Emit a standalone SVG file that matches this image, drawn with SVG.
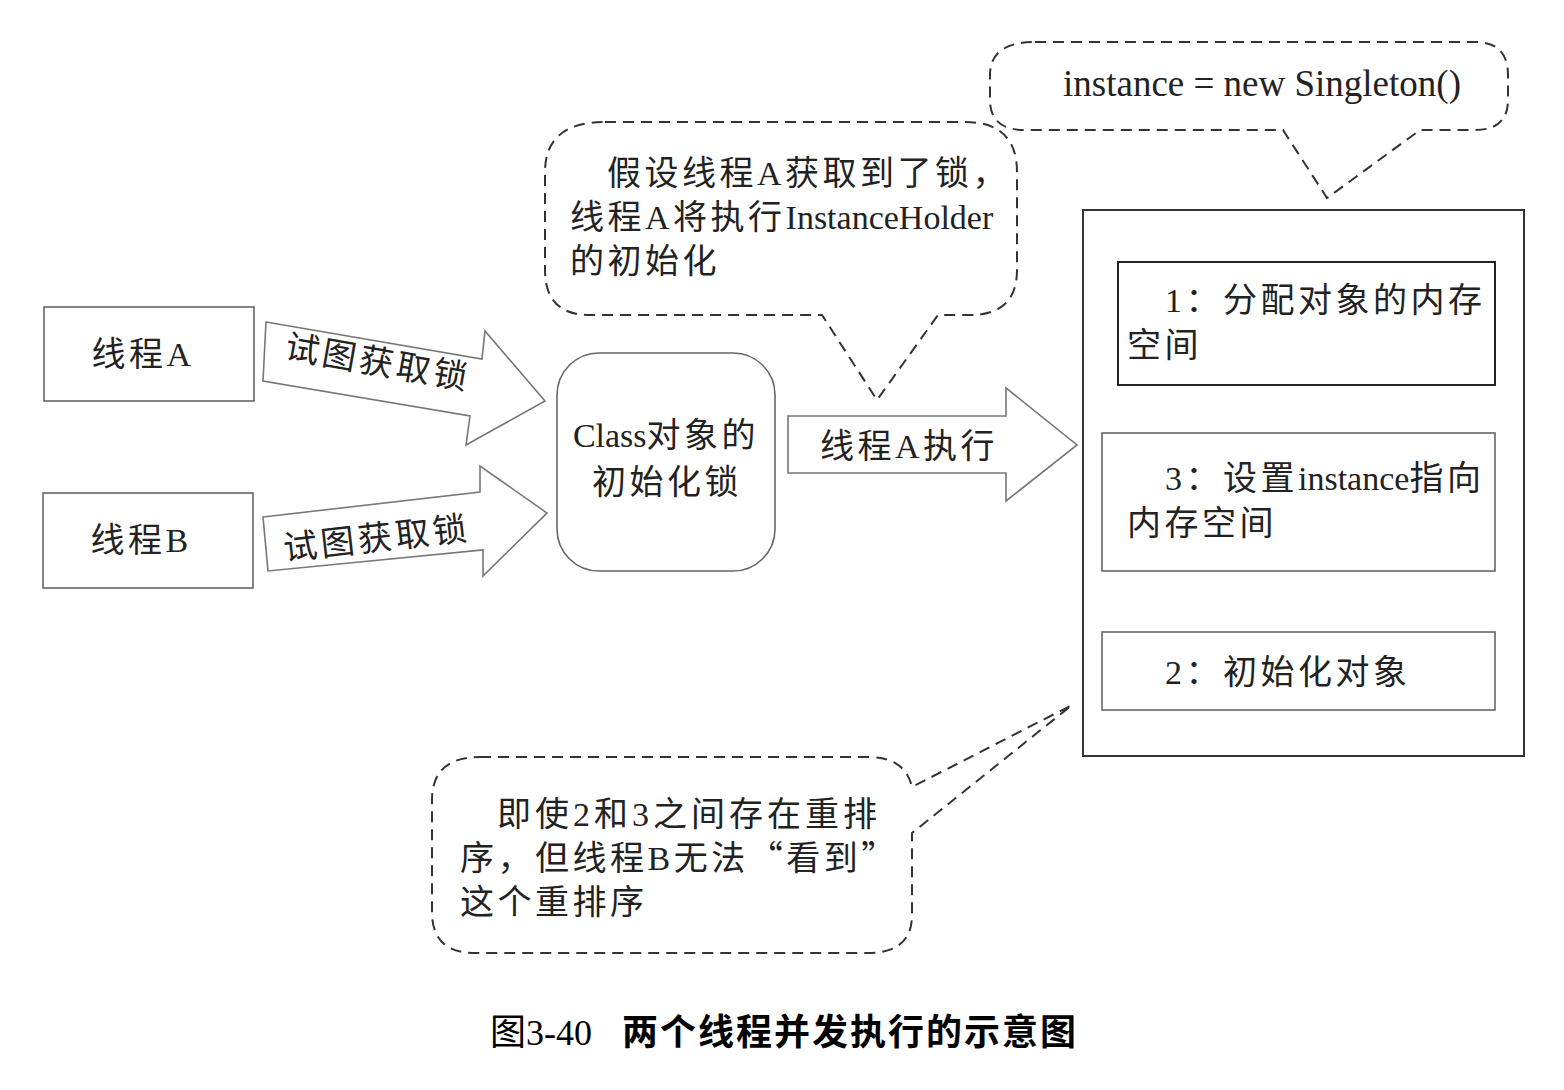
<svg xmlns="http://www.w3.org/2000/svg" width="1564" height="1090" viewBox="0 0 1564 1090">
<style>
text{font-family:"Liberation Serif","Noto Sans CJK SC",serif;font-size:34px;fill:#222;letter-spacing:3.5px}
.lat{letter-spacing:0}
.q{font-family:"Noto Sans CJK SC",sans-serif}
.box{fill:#fff;stroke:#666;stroke-width:1.6}
.dbox{fill:#fff;stroke:#222;stroke-width:2}
.arrow{fill:#fff;stroke:#777;stroke-width:1.6;stroke-linejoin:miter}
.callout{fill:none;stroke:#333;stroke-width:2;stroke-dasharray:11 7}
.mid{text-anchor:middle}
.cap{font-size:36px;fill:#000;letter-spacing:2px}
</style>
<rect width="1564" height="1090" fill="#fff"/>

<g id="callouts">
<g id="callout-top">
<path class="callout" d="M1035,42 H1475 Q1508,42 1508,75 V100 Q1508,130 1475,130 H1420 L1327,198 L1283,130 H1025 Q990,130 990,100 V75 Q990,42 1035,42 Z"/>
<text x="1063" y="96" style="font-size:37px;letter-spacing:0">instance = new Singleton()</text>
</g>
<g id="callout-mid">
<path class="callout" d="M605,122 H965 Q1017,122 1017,172 V270 Q1017,315 970,315 H938 L877,400 L822,315 H590 Q545,315 545,270 V172 Q545,122 605,122 Z"/>
<text x="607" y="185">假设线程A获取到了锁，</text>
<text x="570" y="229">线程A将执行<tspan class="lat">InstanceHolder</tspan></text>
<text x="570" y="273">的初始化</text>
</g>
<g id="callout-bottom">
<path class="callout" d="M480,757 H868 Q905,757 912,787 L1072,705 L912,833 V915 Q912,953 868,953 H475 Q432,953 432,912 V800 Q432,757 480,757 Z"/>
<text x="497" y="826" style="letter-spacing:4px">即使2和3之间存在重排</text>
<text x="460" y="870">序，但线程B无法<tspan class="q">“</tspan>看到<tspan class="q">”</tspan></text>
<text x="460" y="914">这个重排序</text>
</g>
</g>

<g id="connectors">
<g id="arrow-a">
<polygon class="arrow" points="266,322 482,359 485,331 545,401 466,445 470,416 263,381"/>
<text class="mid" transform="translate(376,374) rotate(10)">试图获取锁</text>
</g>
<g id="arrow-b">
<polygon class="arrow" points="263,517 480,492 480,466 547,513 483,576 483,550 268,571"/>
<text class="mid" transform="translate(378,550) rotate(-6.5)">试图获取锁</text>
</g>
<g id="arrow-exec">
<polygon class="arrow" points="788,416 1006,416 1006,388 1077,445 1006,501 1006,473 788,473"/>
<text class="mid" x="909" y="458">线程A执行</text>
</g>
</g>

<g id="node-thread-a">
<rect class="box" x="44" y="307" width="210" height="94"/>
<text class="mid" x="143" y="366">线程A</text>
</g>
<g id="node-thread-b">
<rect class="box" x="43" y="493" width="210" height="95"/>
<text class="mid" x="141" y="552">线程B</text>
</g>
<g id="node-lock">
<rect class="box" x="557" y="353" width="218" height="218" rx="42" ry="42"/>
<text class="mid" x="666" y="447"><tspan class="lat">Class</tspan>对象的</text>
<text class="mid" x="667" y="494">初始化锁</text>
</g>
<g id="node-memory">
<rect class="dbox" x="1083" y="210" width="441" height="546" style="stroke:#333"/>
</g>
<g id="node-step1">
<rect class="dbox" x="1118" y="262" width="377" height="123"/>
<text x="1165" y="312">1：分配对象的内存</text>
<text x="1127" y="357">空间</text>
</g>
<g id="node-step3">
<rect class="box" x="1102" y="433" width="393" height="138"/>
<text x="1165" y="490">3：设置<tspan class="lat">instance</tspan>指向</text>
<text x="1127" y="535">内存空间</text>
</g>
<g id="node-step2">
<rect class="box" x="1102" y="632" width="393" height="78"/>
<text x="1165" y="684">2：初始化对象</text>
</g>

<text class="cap" x="490" y="1045"><tspan style="letter-spacing:0">图3-40</tspan><tspan font-weight="bold" dx="30">两个线程并发执行的示意图</tspan></text>
</svg>
